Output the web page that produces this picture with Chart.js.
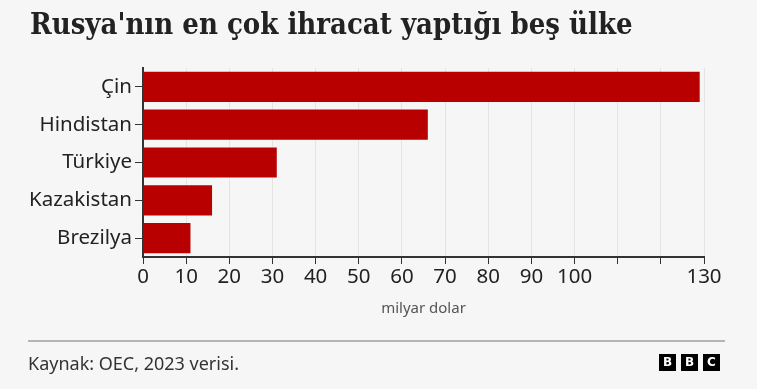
<!DOCTYPE html>
<html lang="tr">
<head>
<meta charset="utf-8">
<title>Rusya'nın en çok ihracat yaptığı beş ülke</title>
<script src="https://cdn.jsdelivr.net/npm/chart.js@4.4.1/dist/chart.umd.min.js"></script>
<style>
  html, body { margin: 0; padding: 0; background: #f6f6f6; }
  #wrap { position: relative; width: 757px; height: 389px; overflow: hidden; font-family: "Noto Sans", sans-serif; }
  #chartBox { position: absolute; left: 0; top: 0; width: 757px; height: 389px; }
  #title { position: absolute; left: 30px; top: 4px; margin: 0; font-family: "DejaVu Serif Condensed", "DejaVu Serif", serif; font-weight: bold; font-size: 29px; line-height: 40px; color: #222; white-space: nowrap; }
  #rule { position: absolute; left: 28px; top: 340px; width: 697px; height: 2px; background: #b5b5b5; }
  #source { position: absolute; left: 28px; top: 351px; font-size: 18px; line-height: 24px; color: #333; }
  #logo { position: absolute; left: 659px; top: 354px; display: flex; gap: 5px; }
  #logo span { width: 17px; height: 17px; background: #000; color: #fff; font: bold 12px/17px "DejaVu Sans", sans-serif; text-align: center; }
</style>
</head>
<body>
<div id="wrap">
  <div id="chartBox"><canvas id="exportsChart"></canvas></div>
  <h1 id="title">Rusya'nın en çok ihracat yaptığı beş ülke</h1>
  <div id="rule"></div>
  <div id="source">Kaynak: OEC, 2023 verisi.</div>
  <div id="logo"><span>B</span><span>B</span><span>C</span></div>
</div>
<script>
// ülkeler ve ihracat (milyar dolar)
const countries = ['Çin', 'Hindistan', 'Türkiye', 'Kazakistan', 'Brezilya'];
const exportValues = [129, 66, 31, 16, 11];
const xTicks = [0, 10, 20, 30, 40, 50, 60, 70, 80, 90, 100, 110, 120, 130];
const hiddenTickLabels = [110, 120]; // tick mark only, no label
const axisTitle = 'milyar dolar';

(function() {
  const tickFont = { family: '"Noto Sans", sans-serif', size: 20.5 };

  new Chart(
    document.getElementById('exportsChart'),
    {
      type: 'bar',
      data: {
        labels: countries,
        datasets: [
          {
            label: 'İhracat',
            data: exportValues,
            backgroundColor: '#b80000',
            borderWidth: 0,
            barPercentage: 0.8,
            categoryPercentage: 1
          }
        ]
      },
      options: {
        indexAxis: 'y',
        responsive: true,
        maintainAspectRatio: false,
        animation: false,
        layout: {
          padding: { top: 68, right: 53, bottom: 71, left: 0 }
        },
        plugins: {
          legend: { display: false },
          tooltip: { enabled: false }
        },
        scales: {
          x: {
            min: 0,
            max: 130,
            afterBuildTicks: scale => {
              scale.ticks = xTicks.map(v => ({ value: v }));
            },
            afterFit: scale => { scale.height = 61; },
            grid: {
              color: '#e4e4e4',
              tickColor: '#333',
              tickLength: 7
            },
            border: { color: '#333', width: 2 },
            ticks: {
              autoSkip: false,
              maxRotation: 0,
              padding: 1,
              color: '#222',
              font: tickFont,
              callback: value => hiddenTickLabels.includes(value) ? '' : value
            },
            title: {
              display: true,
              text: axisTitle,
              color: '#555',
              font: { family: '"Noto Sans", sans-serif', size: 15 },
              padding: { top: 0, bottom: 0 }
            }
          },
          y: {
            afterFit: scale => { scale.width = 143; },
            grid: {
              offset: false,  // tick marks at the label, not between bars
              drawOnChartArea: false,
              tickColor: '#333',
              tickLength: 8
            },
            border: { color: '#333', width: 2 },
            ticks: {
              padding: 3,
              color: '#222',
              font: tickFont
            }
          }
        }
      }
    }
  );
})();
</script>
</body>
</html>
